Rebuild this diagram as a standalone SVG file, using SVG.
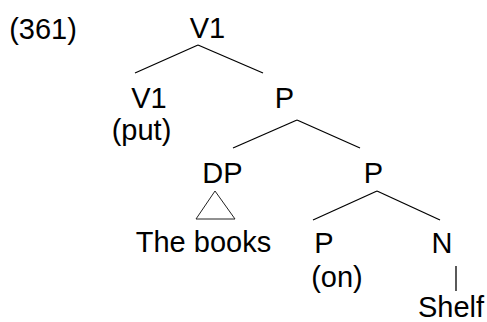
<svg xmlns="http://www.w3.org/2000/svg" width="487" height="322" viewBox="0 0 487 322">
<style>
text{font-family:"Liberation Sans",Arial,sans-serif;font-size:29px;fill:#000;text-anchor:middle}
.e{stroke:#000;stroke-width:1.3;fill:none}
</style>
<rect width="487" height="322" fill="#fff"/>
<text x="43" y="39">(361)</text>
<g id="connectors">
<line class="e" x1="198" y1="45" x2="135" y2="73"/>
<line class="e" x1="198" y1="45" x2="263" y2="73"/>
<line class="e" x1="297" y1="120" x2="233" y2="148"/>
<line class="e" x1="297" y1="120" x2="360" y2="148"/>
<line class="e" x1="377" y1="191" x2="313" y2="220"/>
<line class="e" x1="377" y1="191" x2="440" y2="220"/>
<line class="e" x1="456" y1="266" x2="456" y2="291"/>
</g>
<g id="n-v1-root"><text x="207.5" y="38">V1</text></g>
<g id="n-v1"><text x="149" y="108">V1</text><text x="141.5" y="140">(put)</text></g>
<g id="n-p1"><text x="284.5" y="108">P</text></g>
<g id="n-dp"><text x="222.5" y="183">DP</text>
<polygon points="215,191 196,219 235,219" fill="none" stroke="#222" stroke-width="1"/>
<text x="203.5" y="252">The books</text></g>
<g id="n-p2"><text x="373.5" y="183">P</text></g>
<g id="n-p3"><text x="324" y="253">P</text><text x="337" y="287">(on)</text></g>
<g id="n-n"><text x="442" y="253">N</text><text x="451" y="317">Shelf</text></g>
</svg>
